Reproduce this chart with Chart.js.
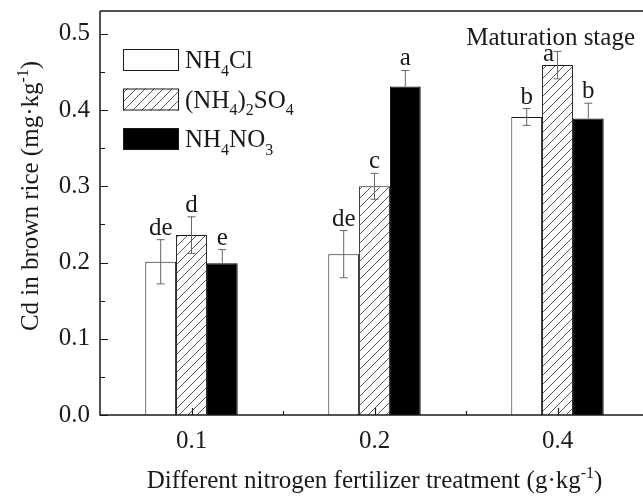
<!DOCTYPE html>
<html>
<head>
<meta charset="utf-8">
<script src="https://cdn.jsdelivr.net/npm/chart.js@4/dist/chart.umd.min.js"></script>
<style>
  html, body { margin: 0; padding: 0; background: #fff; overflow: hidden; }
  #wrap { width: 660px; height: 498px; }
</style>
</head>
<body>
<div id="wrap"><canvas id="chart" width="660" height="498"></canvas></div>
<script>
// treatment levels (g/kg)
const categories = ['0.1', '0.2', '0.4'];

// Cd in brown rice, mg/kg
const nh4clVals = [0.201, 0.211, 0.391];
const nh4clErr = [0.029, 0.031, 0.011];
const sulfVals = [0.236, 0.300, 0.459];
const sulfErr = [0.024, 0.017, 0.018];
const nitrVals = [0.199, 0.431, 0.389];
const nitrErr = [0.018, 0.021, 0.020];

// significance letters
const nh4clLetters = ['de', 'de', 'b'];
const sulfLetters = ['d', 'c', 'a'];
const nitrLetters = ['e', 'a', 'b'];

const yTicks = [0, 0.1, 0.2, 0.3, 0.4, 0.5];

const FONT = '"Liberation Serif", "Times New Roman", serif';
const INK = '#1a1a1a';
const FS = 25;

// diagonal hatch
function makeHatch() {
  const c = document.createElement('canvas');
  c.width = 9; c.height = 9;
  const g = c.getContext('2d');
  g.fillStyle = '#fff';
  g.fillRect(0, 0, 9, 9);
  g.strokeStyle = '#444';
  g.lineWidth = 0.9;
  g.beginPath();
  g.moveTo(-1, 10); g.lineTo(10, -1);
  g.moveTo(-1, 1); g.lineTo(1, -1);
  g.moveTo(8, 10); g.lineTo(10, 8);
  g.stroke();
  return g.createPattern(c, 'repeat');
}
const hatch = makeHatch();

// text with sub/superscripts: parts = [[text, 'sub'|'sup'|undefined], ...]
function richWidth(ctx, parts, size) {
  let w = 0;
  parts.forEach(([t, k]) => {
    ctx.font = (k ? Math.round(size * 0.62) : size) + 'px ' + FONT;
    w += ctx.measureText(t).width;
  });
  return w;
}
function drawRich(ctx, parts, x, y, size, align) {
  const w = richWidth(ctx, parts, size);
  let cx = align === 'center' ? x - w / 2 : align === 'right' ? x - w : x;
  ctx.textAlign = 'left';
  ctx.textBaseline = 'alphabetic';
  parts.forEach(([t, k]) => {
    const s = k ? Math.round(size * 0.62) : size;
    ctx.font = s + 'px ' + FONT;
    let dy = 0;
    if (k === 'sub') dy = size * 0.3;
    if (k === 'sup') dy = -size * 0.42;
    ctx.fillText(t, cx, y + dy);
    cx += ctx.measureText(t).width;
  });
}

const errSets = [nh4clErr, sulfErr, nitrErr];
const valSets = [nh4clVals, sulfVals, nitrVals];
const letterSets = [nh4clLetters, sulfLetters, nitrLetters];

const decorations = {
  id: 'decorations',
  afterDatasetsDraw(chart) {
    const { ctx, chartArea: a, scales: { x, y } } = chart;
    ctx.save();

    // error bars + letters
    valSets.forEach((vals, i) => {
      const meta = chart.getDatasetMeta(i);
      vals.forEach((v, j) => {
        const bar = meta.data[j];
        const e = errSets[i][j];
        const top = y.getPixelForValue(v + e);
        const bot = i === 2 ? bar.y : y.getPixelForValue(v - e);
        ctx.strokeStyle = '#666';
        ctx.lineWidth = 1;
        ctx.beginPath();
        ctx.moveTo(bar.x, top); ctx.lineTo(bar.x, bot);
        ctx.moveTo(bar.x - 4, top); ctx.lineTo(bar.x + 4, top);
        if (i !== 2) { ctx.moveTo(bar.x - 4, bot); ctx.lineTo(bar.x + 4, bot); }
        ctx.stroke();
        ctx.fillStyle = INK;
        ctx.font = FS + 'px ' + FONT;
        ctx.textAlign = 'center';
        ctx.textBaseline = 'alphabetic';
        // the top letter sits beside its error cap, under the panel label
        const crowded = i === 1 && j === 2;
        ctx.fillText(letterSets[i][j], bar.x - (crowded ? 9 : 0), crowded ? top + 10 : top - 5);
      });
    });

    // frame: left, bottom, top
    ctx.strokeStyle = INK;
    ctx.lineWidth = 1.5;
    ctx.beginPath();
    ctx.moveTo(a.left, a.top); ctx.lineTo(a.left, a.bottom);
    ctx.lineTo(chart.width, a.bottom);
    ctx.moveTo(a.left, a.top); ctx.lineTo(chart.width, a.top);
    ctx.stroke();

    // inward ticks
    ctx.lineWidth = 1.2;
    ctx.beginPath();
    for (let k = 0; k <= 10; k++) {
      const py = Math.round(y.getPixelForValue(k * 0.05)) + 0.5;
      const len = k % 2 === 0 ? 8 : 5;
      ctx.moveTo(a.left, py); ctx.lineTo(a.left + len, py);
    }
    categories.forEach((c, j) => {
      const px = Math.round(x.getPixelForValue(j)) + 0.5;
      ctx.moveTo(px, a.bottom); ctx.lineTo(px, a.bottom - 7);
      if (j > 0) {
        const mx = Math.round((x.getPixelForValue(j) + x.getPixelForValue(j - 1)) / 2) + 0.5;
        ctx.moveTo(mx, a.bottom); ctx.lineTo(mx, a.bottom - 4);
      }
    });
    ctx.stroke();

    // legend
    const rows = [
      { fill: '#fff', parts: [['NH'], ['4', 'sub'], ['Cl']] },
      { fill: hatch, parts: [['(NH'], ['4', 'sub'], [')'], ['2', 'sub'], ['SO'], ['4', 'sub']] },
      { fill: '#000', parts: [['NH'], ['4', 'sub'], ['NO'], ['3', 'sub']] }
    ];
    rows.forEach((r, i) => {
      const by = 49 + i * 39.5;
      ctx.fillStyle = r.fill;
      ctx.fillRect(123, by, 56, 22);
      ctx.strokeStyle = INK;
      ctx.lineWidth = 1;
      ctx.strokeRect(123.5, by + 0.5, 55, 21);
      ctx.fillStyle = INK;
      drawRich(ctx, r.parts, 185, by + 19, FS, 'left');
    });

    // panel label
    ctx.fillStyle = INK;
    drawRich(ctx, [['Maturation stage']], 635, 45, FS, 'right');

    // axis titles
    drawRich(ctx, [['Different nitrogen fertilizer treatment (g\u00b7kg'], ['-1', 'sup'], [')']],
      (a.left + a.right) / 2, 488, FS, 'center');
    ctx.save();
    ctx.translate(38, 196);
    ctx.rotate(-Math.PI / 2);
    drawRich(ctx, [['Cd in brown rice (mg\u00b7kg'], ['-1', 'sup'], [')']], 0, 0, FS, 'center');
    ctx.restore();

    ctx.restore();
  }
};

new Chart(document.getElementById('chart'), {
  type: 'bar',
  data: {
    labels: categories,
    datasets: [
      { label: 'NH4Cl', data: nh4clVals, backgroundColor: '#fff', borderColor: INK, borderWidth: 1 },
      { label: '(NH4)2SO4', data: sulfVals, backgroundColor: hatch, borderColor: INK, borderWidth: 1 },
      { label: 'NH4NO3', data: nitrVals, backgroundColor: '#000', borderColor: '#000', borderWidth: 1 }
    ]
  },
  options: {
    responsive: false,
    animation: false,
    layout: { padding: { top: 11, right: 11, left: 0, bottom: 0 } },
    plugins: { legend: { display: false }, tooltip: { enabled: false } },
    datasets: { bar: { categoryPercentage: 0.505, barPercentage: 1 } },
    scales: {
      x: {
        grid: { display: false, drawTicks: false },
        border: { display: false },
        ticks: { color: INK, font: { family: FONT, size: FS }, padding: 11 },
        afterFit(s) { s.height = 83; s.paddingLeft = 0; s.paddingRight = 0; }
      },
      y: {
        min: 0,
        max: 0.53,
        grid: { display: false, drawTicks: false },
        border: { display: false },
        afterBuildTicks(s) { s.ticks = yTicks.map(v => ({ value: v })); },
        ticks: {
          color: INK,
          font: { family: FONT, size: FS },
          padding: 10,
          callback: v => v.toFixed(1)
        },
        afterFit(s) { s.width = 100; s.paddingTop = 0; s.paddingBottom = 0; }
      }
    }
  },
  plugins: [decorations]
});
</script>
</body>
</html>
